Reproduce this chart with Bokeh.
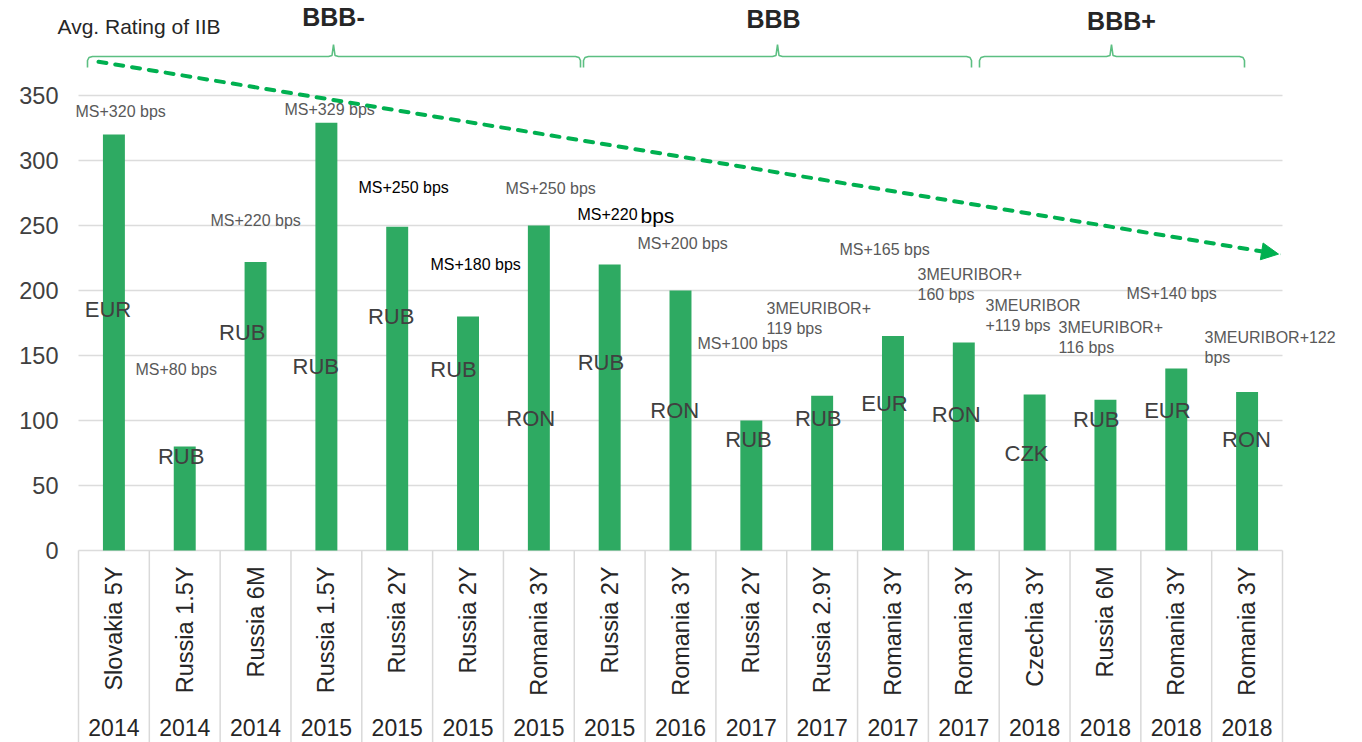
import numpy as np
from bokeh.plotting import figure
from bokeh.models import (Range1d, ColumnDataSource, LabelSet, Label, Arrow, NormalHead)
from bokeh.core.properties import value
from bokeh.embed import file_html
from bokeh.resources import INLINE

# ---------------- data ----------------
instruments = ["Slovakia 5Y", "Russia 1.5Y", "Russia 6M", "Russia 1.5Y", "Russia 2Y",
               "Russia 2Y", "Romania 3Y", "Russia 2Y", "Romania 3Y", "Russia 2Y",
               "Russia 2.9Y", "Romania 3Y", "Romania 3Y", "Czechia 3Y", "Russia 6M",
               "Romania 3Y", "Romania 3Y"]
years = ["2014", "2014", "2014", "2015", "2015", "2015", "2015", "2015", "2016",
         "2017", "2017", "2017", "2017", "2018", "2018", "2018", "2018"]
spreads = [320, 80, 222, 329, 249, 180, 250, 220, 200, 100, 119, 165, 160, 120, 116, 140, 122]
currencies = ["EUR", "RUB", "RUB", "RUB", "RUB", "RUB", "RON", "RUB", "RON", "RUB",
              "RUB", "EUR", "RON", "CZK", "RUB", "EUR", "RON"]
pricing = ["MS+320 bps", "MS+80 bps", "MS+220 bps", "MS+329 bps", "MS+250 bps",
           "MS+180 bps", "MS+250 bps", "MS+220 bps", "MS+200 bps", "MS+100 bps",
           "3MEURIBOR+\n119 bps", "MS+165 bps", "3MEURIBOR+\n160 bps", "3MEURIBOR\n+119 bps",
           "3MEURIBOR+\n116 bps", "MS+140 bps", "3MEURIBOR+122\nbps"]
ratings = ["BBB-", "BBB", "BBB+"]
y_ticks = [0, 50, 100, 150, 200, 250, 300, 350]
rating_caption = "Avg. Rating of IIB"
trend_start, trend_end = 376, 228

# ---------------- layout (page pixels) ----------------
W, H = 1362, 742
FRAME_L, FRAME_R = 78, 1282
ZERO_PY, PX_PER_UNIT = 550, 1.3
N = len(spreads)
COL = (FRAME_R - FRAME_L) / N


def gx(px):
    return (px - FRAME_L) / COL


def gy(py):
    return (ZERO_PY - py) / PX_PER_UNIT


price_left_px = [75, 135, 210, 284, 358, 430, 505, 577, 637, 697, 766, 839, 917, 985, 1058, 1126, 1204]
price_top_px = [105, 363, 214, 103, 181, 258, 182, 208, 237, 337, 302, 243, 268, 299, 321, 287, 331]
price_dark = [4, 5, 7]
price_emph = 7
cur_cx_px = [107.5, 180.6, 241.8, 315.3, 390.7, 453, 530.3, 600.4, 674.3, 748, 817.8, 884,
             955.7, 1026, 1095.8, 1166.9, 1246]
cur_cy_px = [309.3, 455.7, 331.7, 365.7, 315.7, 369.3, 418.3, 361.7, 410, 439, 418.3, 403.3,
             414.3, 453.3, 419.3, 410, 439]
brace_px = [(87, 333, 580), (583, 777, 971), (979, 1111, 1244)]
rating_label_px = [(333, 16), (773, 18), (1121, 20)]

FONT = "Liberation Sans"
GREEN = "#2eaa62"

p = figure(width=W, height=H, output_backend="svg", toolbar_location=None,
           x_range=Range1d(gx(0), gx(W)), y_range=Range1d(gy(H), gy(0)),
           x_axis_location=None, y_axis_location=None,
           min_border_left=0, min_border_right=0, min_border_top=0, min_border_bottom=0,
           title=None)
p.outline_line_color = None
p.background_fill_color = "white"
p.border_fill_color = "white"
p.xgrid.visible = False
p.ygrid.visible = False

xs = np.arange(N) + 0.5

# horizontal gridlines (also the table top line at 0)
p.segment(x0=np.zeros(len(y_ticks)), y0=y_ticks, x1=np.full(len(y_ticks), N), y1=y_ticks,
          line_color="#dcdcdc", line_width=1.6)

# y tick labels
tk_src = ColumnDataSource(dict(x=np.full(len(y_ticks), gx(58)), y=y_ticks,
                               t=[str(v) for v in y_ticks]))
p.add_layout(LabelSet(x="x", y="y", text="t", source=tk_src, text_align="right",
                      text_baseline="middle", text_font=value(FONT), text_font_size="23.5px",
                      text_color="#404040"))

# bars
p.vbar(x=xs, top=spreads, width=0.31, color=GREEN, line_color=None)

# table separators under the axis
sep_x = np.arange(N + 1)
p.segment(x0=sep_x, y0=np.zeros(N + 1), x1=sep_x, y1=np.full(N + 1, gy(H + 10)),
          line_color="#d9d9d9", line_width=1.5)

# instrument names (rotated) and years
cat_src = ColumnDataSource(dict(x=xs, y=np.full(N, gy(566)), t=instruments))
p.add_layout(LabelSet(x="x", y="y", text="t", source=cat_src, angle=np.pi / 2,
                      text_align="right", text_baseline="middle", text_font=value(FONT),
                      text_font_size="23.5px", text_color="#262626"))
yr_src = ColumnDataSource(dict(x=xs, y=np.full(N, gy(727)), t=years))
p.add_layout(LabelSet(x="x", y="y", text="t", source=yr_src, text_align="center",
                      text_baseline="middle", text_font=value(FONT), text_font_size="23px",
                      text_color="#262626"))

# currency labels
cur_src = ColumnDataSource(dict(x=[gx(v) for v in cur_cx_px], y=[gy(v) for v in cur_cy_px],
                                t=currencies))
p.add_layout(LabelSet(x="x", y="y", text="t", source=cur_src, text_align="center",
                      text_baseline="middle", text_font=value(FONT), text_font_size="22px",
                      text_color="#404040"))

# pricing labels
ptexts, pcolors = [], []
for i, t in enumerate(pricing):
    if i == price_emph:
        t = t.rsplit(" ", 1)[0]
    ptexts.append(t)
    pcolors.append("#000000" if i in price_dark else "#595959")
pr_src = ColumnDataSource(dict(x=[gx(v) for v in price_left_px],
                               y=[gy(v - 3) for v in price_top_px], t=ptexts, c=pcolors))
p.add_layout(LabelSet(x="x", y="y", text="t", source=pr_src, text_align="left",
                      text_baseline="top", text_font=value(FONT), text_font_size="16px",
                      text_color="c", text_line_height=1.2))
p.add_layout(Label(x=gx(640), y=gy(price_top_px[price_emph] + 7),
                   text=pricing[price_emph].rsplit(" ", 1)[1],
                   text_align="left", text_baseline="middle", text_font=FONT,
                   text_font_size="21px", text_color="#000000"))

# rating braces
for (l, a, r) in brace_px:
    bx_px = [l, l, l + 1.5, l + 5, a - 5, a - 1.5, a, a + 1.5, a + 5, r - 5, r - 1.5, r, r]
    by_px = [67, 60, 57, 56, 56, 55, 44, 55, 56, 56, 57, 60, 67]
    p.line([gx(v) for v in bx_px], [gy(v) for v in by_px], line_color="#5cbf82", line_width=1.6)

for name, (cx, cy) in zip(ratings, rating_label_px):
    p.add_layout(Label(x=gx(cx), y=gy(cy), text=name, text_align="center",
                       text_baseline="middle", text_font=FONT, text_font_size="25px",
                       text_font_style="bold", text_color="#262626"))

p.add_layout(Label(x=gx(57), y=gy(26), text=rating_caption, text_align="left",
                   text_baseline="middle", text_font=FONT, text_font_size="21px",
                   text_color="#262626"))

# trend arrow
p.add_layout(Arrow(x_start=gx(98), y_start=trend_start, x_end=gx(1278), y_end=trend_end,
                   line_color="#00b050", line_width=4, line_dash="8 9", line_cap="round",
                   end=NormalHead(size=17, fill_color="#00b050", line_color="#00b050")))

open("out.html", "w").write(file_html(p, INLINE))
